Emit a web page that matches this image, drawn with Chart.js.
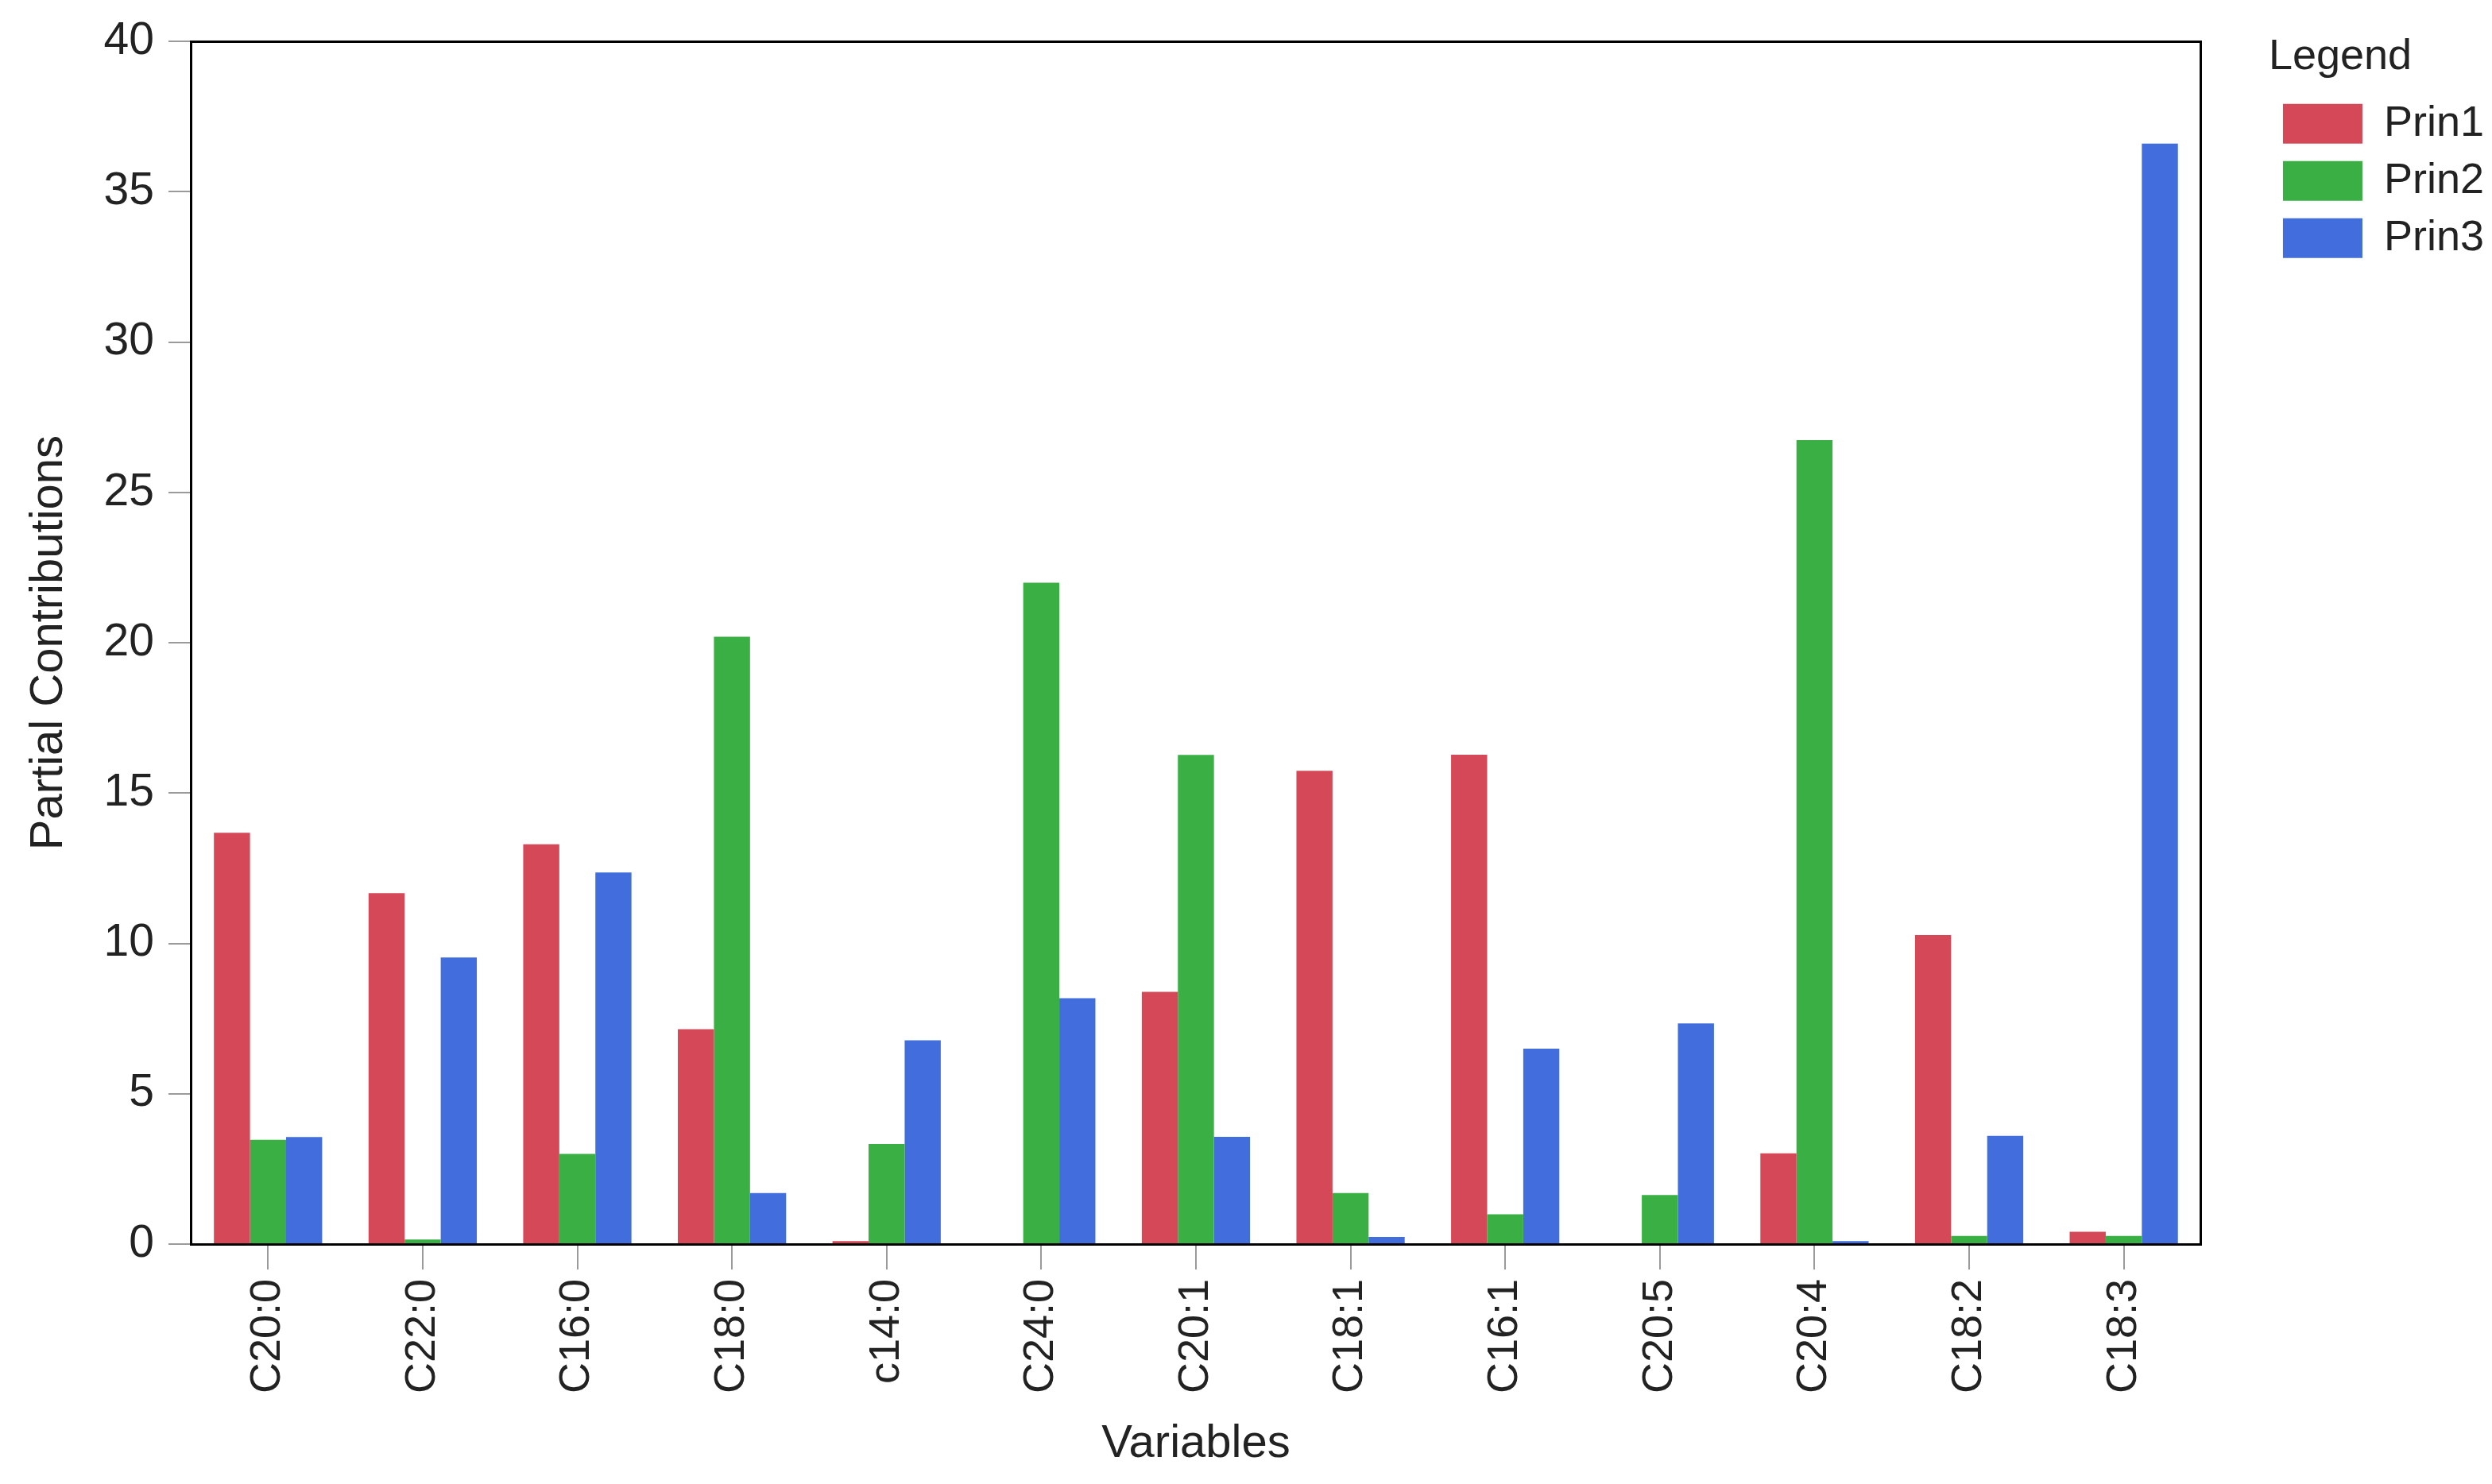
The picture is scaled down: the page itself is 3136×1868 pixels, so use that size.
<!DOCTYPE html>
<html>
<head>
<meta charset="utf-8">
<script src="https://cdn.jsdelivr.net/npm/chart.js@4"></script>
<style>
  html, body { margin: 0; padding: 0; background: #ffffff; }
  #wrap { width: 3136px; height: 1868px; }
</style>
</head>
<body>
<div id="wrap"><canvas id="chart" width="3136" height="1868"></canvas></div>
<script>
// categories along the x axis
const variables = ['C20:0', 'C22:0', 'C16:0', 'C18:0', 'c14:0', 'C24:0', 'C20:1',
                   'C18:1', 'C16:1', 'C20:5', 'C20:4', 'C18:2', 'C18:3'];

// partial contributions
const prin1 = [13.68, 11.67, 13.3, 7.15, 0.1, 0, 8.39, 15.74, 16.28, 0, 3.02, 10.28, 0.41];
const prin2 = [3.47, 0.15, 3.0, 20.2, 3.33, 22.0, 16.27, 1.7, 0.99, 1.63, 26.74, 0.27, 0.27];
const prin3 = [3.56, 9.53, 12.36, 1.7, 6.78, 8.18, 3.57, 0.24, 6.5, 7.34, 0.1, 3.6, 36.6];

const seriesNames = ['Prin1', 'Prin2', 'Prin3'];
const seriesColors = ['#D44858', '#3AB044', '#416EDC'];

const yMin = 0;
const yMax = 40;
const yStep = 5;

const FONT = "'Liberation Sans', Arial, sans-serif";
const frame = { display: true, color: '#000000', width: 3 };

const ctx = document.getElementById('chart').getContext('2d');

const chart = new Chart(ctx, {
    type: 'bar',
    data: {
        labels: variables,
        datasets: [prin1, prin2, prin3].map((values, i) => ({
            label: seriesNames[i],
            data: values,
            backgroundColor: seriesColors[i],
            borderWidth: 0,
            categoryPercentage: 0.7,
            barPercentage: 1.0
        }))
    },
    options: {
        responsive: false,
        animation: false,
        layout: { padding: 0 },
        plugins: {
            tooltip: { enabled: false },
            legend: {
                position: 'right',
                align: 'start',
                title: {
                    display: true,
                    position: 'start',
                    text: 'Legend',
                    color: '#222222',
                    font: { family: FONT, size: 54 },
                    padding: { top: 45, bottom: 1 }
                },
                labels: {
                    boxWidth: 100,
                    boxHeight: 50,
                    padding: 18,
                    color: '#222222',
                    font: { family: FONT, size: 54 }
                }
            }
        },
        scales: {
            x: {
                position: 'bottom',
                grid: {
                    display: true,
                    drawOnChartArea: false,
                    offset: false,
                    tickLength: 32,
                    color: '#9a9a9a',
                    lineWidth: 2
                },
                border: frame,
                ticks: {
                    autoSkip: false,
                    minRotation: 90,
                    maxRotation: 90,
                    padding: 12,
                    color: '#222222',
                    font: { family: FONT, size: 54 }
                },
                title: {
                    display: true,
                    text: 'Variables',
                    color: '#222222',
                    font: { family: FONT, size: 58 },
                    padding: { top: 15, bottom: 15 }
                },
                afterFit: (scale) => { scale.height = 302; }
            },
            x2: {
                type: 'category',
                position: 'top',
                grid: { display: true, drawOnChartArea: false, drawTicks: false },
                border: frame,
                ticks: { display: false },
                afterFit: (scale) => { scale.height = 50; }
            },
            y: {
                position: 'left',
                min: yMin,
                max: yMax,
                grid: {
                    display: true,
                    drawOnChartArea: false,
                    tickLength: 28,
                    color: '#9a9a9a',
                    lineWidth: 2
                },
                border: frame,
                ticks: {
                    stepSize: yStep,
                    padding: 18,
                    color: '#222222',
                    font: { family: FONT, size: 57 }
                },
                title: {
                    display: true,
                    text: 'Partial Contributions',
                    color: '#222222',
                    font: { family: FONT, size: 58 },
                    padding: { top: 27, bottom: 27 }
                },
                afterFit: (scale) => { scale.width = 240; }
            },
            y2: {
                type: 'linear',
                position: 'right',
                grid: { display: true, drawOnChartArea: false, drawTicks: false },
                border: frame,
                ticks: { display: false },
                afterFit: (scale) => { scale.width = 85; }
            }
        }
    }
});
</script>
</body>
</html>
